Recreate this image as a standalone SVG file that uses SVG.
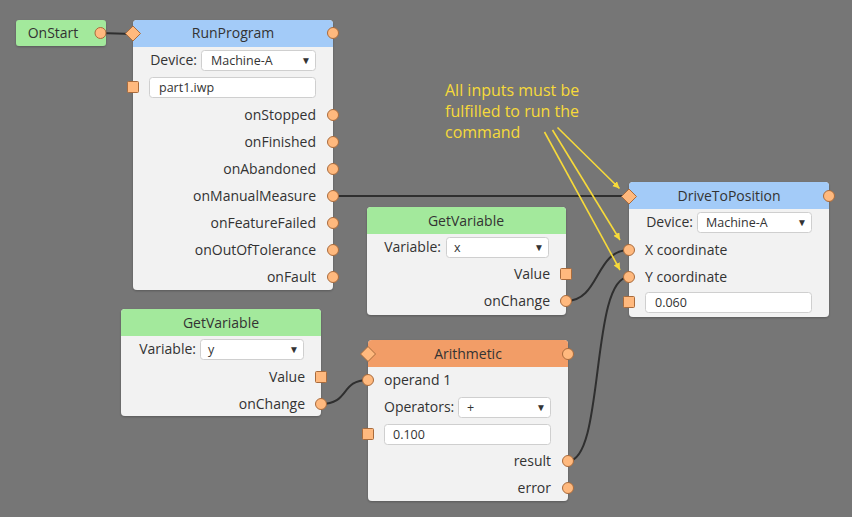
<svg xmlns="http://www.w3.org/2000/svg" width="852" height="517" viewBox="0 0 852 517">
  <defs>
    <style>
      text { font-family: "Open Sans", "Liberation Sans", sans-serif; fill: #333; }
      .lbl { font-size: 14px; dominant-baseline: central; }
      .r { text-anchor: end; }
      .title { font-size: 14px; text-anchor: middle; dominant-baseline: central; }
      .sel { font-size: 12.5px; dominant-baseline: central; }
      .body { fill: #f2f2f2; }
      .hdr-blue { fill: #a3cbf8; }
      .hdr-green { fill: #a3e99c; }
      .hdr-orange { fill: #f29d67; }
      .box { fill: #ffffff; stroke: #cfcfcf; stroke-width: 1; }
      .port { fill: #ffb97e; stroke: #a96b3c; stroke-width: 1; }
      .wire { fill: none; stroke: #2f2f2f; stroke-width: 2; }
      .note { font-size: 16px; fill: #f7da3a; }
      .pointer { stroke: #f7da3a; stroke-width: 1.6; fill: none; marker-end: url(#tip); }
      .arrow { font-size: 10px; text-anchor: middle; dominant-baseline: central; }
    </style>
    <marker id="tip" viewBox="0 0 10 10" refX="10" refY="5" markerWidth="7" markerHeight="7" markerUnits="userSpaceOnUse" orient="auto">
      <path d="M0,0 L10,5 L0,10 z" fill="#f7da3a"/>
    </marker>
    <filter id="shadow" x="-5%" y="-5%" width="110%" height="115%">
      <feDropShadow dx="0" dy="1" stdDeviation="1" flood-color="#000" flood-opacity="0.25"/>
    </filter>
  </defs>

  <rect x="0" y="0" width="852" height="517" fill="#767676"/>

  <!-- connectors -->
  <g id="connectors">
    <path class="wire" d="M100,33 L133,34"/>
    <path class="wire" d="M333,196 L629,196"/>
    <path class="wire" d="M566,301 C600,301 595,250 629,250"/>
    <path class="wire" d="M321,404 C350,404 340,380 368,380"/>
    <path class="wire" d="M568,461 C605,461 590,277 629,277"/>
  </g>

  <!-- OnStart -->
  <g id="onstart">
    <rect x="16" y="20" width="90" height="26" rx="3" class="hdr-green" filter="url(#shadow)"/>
    <text class="title" x="53" y="32.5">OnStart</text>
    <circle class="port" cx="100.5" cy="33" r="5.5"/>
  </g>

  <!-- RunProgram -->
  <g id="runprogram">
    <rect x="133" y="20" width="200" height="270" rx="4" class="body" filter="url(#shadow)"/>
    <path class="hdr-blue" d="M133,47 V24 a4,4 0 0 1 4,-4 H329 a4,4 0 0 1 4,4 V47 z"/>
    <text class="title" x="233" y="32.5">RunProgram</text>
    <path class="port" d="M133,26 L140.5,33.5 L133,41 L125.5,33.5 z"/>
    <circle class="port" cx="333" cy="33" r="5.5"/>
    <text class="lbl r" x="197" y="59.5">Device:</text>
    <rect class="box" x="201.5" y="50.5" width="114" height="20" rx="3"/>
    <text class="sel" x="211" y="60">Machine-A</text>
    <text class="arrow" x="306" y="60">▼</text>
    <rect class="box" x="149.5" y="77.5" width="166" height="20" rx="3"/>
    <text class="sel" x="159" y="87">part1.iwp</text>
    <rect class="port" x="127.5" y="81.5" width="11" height="11" rx="1"/>
    <text class="lbl r" x="316" y="114.5">onStopped</text>
    <circle class="port" cx="333" cy="115" r="5.5"/>
    <text class="lbl r" x="316" y="141.5">onFinished</text>
    <circle class="port" cx="333" cy="142" r="5.5"/>
    <text class="lbl r" x="316" y="168.5">onAbandoned</text>
    <circle class="port" cx="333" cy="169" r="5.5"/>
    <text class="lbl r" x="316" y="195.5">onManualMeasure</text>
    <circle class="port" cx="333" cy="196" r="5.5"/>
    <text class="lbl r" x="316" y="222.5">onFeatureFailed</text>
    <circle class="port" cx="333" cy="223" r="5.5"/>
    <text class="lbl r" x="316" y="249.5">onOutOfTolerance</text>
    <circle class="port" cx="333" cy="250" r="5.5"/>
    <text class="lbl r" x="316" y="276.5">onFault</text>
    <circle class="port" cx="333" cy="277" r="5.5"/>
  </g>

  <!-- GetVariable x -->
  <g id="getvariable-x">
    <rect x="367" y="207" width="199" height="108" rx="4" class="body" filter="url(#shadow)"/>
    <path class="hdr-green" d="M367,234 V211 a4,4 0 0 1 4,-4 H562 a4,4 0 0 1 4,4 V234 z"/>
    <text class="title" x="466" y="220.5">GetVariable</text>
    <text class="lbl r" x="441" y="246.5">Variable:</text>
    <rect class="box" x="446.5" y="237.5" width="102" height="20" rx="3"/>
    <text class="sel" x="454" y="247">x</text>
    <text class="arrow" x="539" y="247">▼</text>
    <text class="lbl r" x="550" y="273.5">Value</text>
    <rect class="port" x="560.5" y="268.5" width="11" height="11" rx="1"/>
    <text class="lbl r" x="550" y="300.5">onChange</text>
    <circle class="port" cx="566" cy="301" r="5.5"/>
  </g>

  <!-- DriveToPosition -->
  <g id="drivetoposition">
    <rect x="629" y="182" width="200" height="135" rx="4" class="body" filter="url(#shadow)"/>
    <path class="hdr-blue" d="M629,209 V186 a4,4 0 0 1 4,-4 H825 a4,4 0 0 1 4,4 V209 z"/>
    <text class="title" x="729" y="195.5">DriveToPosition</text>
    <path class="port" d="M629,189 L636.5,196.5 L629,204 L621.5,196.5 z"/>
    <circle class="port" cx="829" cy="196" r="5.5"/>
    <text class="lbl r" x="693" y="221.5">Device:</text>
    <rect class="box" x="697.5" y="212.5" width="114" height="20" rx="3"/>
    <text class="sel" x="706" y="222">Machine-A</text>
    <text class="arrow" x="802" y="222">▼</text>
    <text class="lbl" x="645" y="249.5">X coordinate</text>
    <circle class="port" cx="629" cy="250" r="5.5"/>
    <text class="lbl" x="645" y="276.5">Y coordinate</text>
    <circle class="port" cx="629" cy="277" r="5.5"/>
    <rect class="box" x="645.5" y="292.5" width="166" height="20" rx="3"/>
    <text class="sel" x="655" y="302">0.060</text>
    <rect class="port" x="623.5" y="296.5" width="11" height="11" rx="1"/>
  </g>

  <!-- GetVariable y -->
  <g id="getvariable-y">
    <rect x="121" y="309" width="200" height="107" rx="4" class="body" filter="url(#shadow)"/>
    <path class="hdr-green" d="M121,336 V313 a4,4 0 0 1 4,-4 H317 a4,4 0 0 1 4,4 V336 z"/>
    <text class="title" x="221" y="322.5">GetVariable</text>
    <text class="lbl r" x="196" y="348.5">Variable:</text>
    <rect class="box" x="200.5" y="339.5" width="103" height="20" rx="3"/>
    <text class="sel" x="208" y="349">y</text>
    <text class="arrow" x="294" y="349">▼</text>
    <text class="lbl r" x="305" y="376.5">Value</text>
    <rect class="port" x="315.5" y="371.5" width="11" height="11" rx="1"/>
    <text class="lbl r" x="305" y="403.5">onChange</text>
    <circle class="port" cx="321" cy="404" r="5.5"/>
  </g>

  <!-- Arithmetic -->
  <g id="arithmetic">
    <rect x="368" y="340" width="200" height="161" rx="4" class="body" filter="url(#shadow)"/>
    <path class="hdr-orange" d="M368,367 V344 a4,4 0 0 1 4,-4 H564 a4,4 0 0 1 4,4 V367 z"/>
    <text class="title" x="468" y="353.5">Arithmetic</text>
    <path class="port" d="M368,346.5 L375.5,354 L368,361.5 L360.5,354 z"/>
    <circle class="port" cx="568" cy="354" r="5.5"/>
    <text class="lbl" x="384" y="379.5">operand 1</text>
    <circle class="port" cx="368" cy="380" r="5.5"/>
    <text class="lbl" x="384" y="406.5">Operators:</text>
    <rect class="box" x="458.5" y="397.5" width="92" height="20" rx="3"/>
    <text class="sel" x="467" y="407">+</text>
    <text class="arrow" x="541" y="407">▼</text>
    <rect class="box" x="384.5" y="424.5" width="166" height="20" rx="3"/>
    <text class="sel" x="393" y="434">0.100</text>
    <rect class="port" x="362.5" y="428.5" width="11" height="11" rx="1"/>
    <text class="lbl r" x="551" y="460.5">result</text>
    <circle class="port" cx="568" cy="461" r="5.5"/>
    <text class="lbl r" x="551" y="487.5">error</text>
    <circle class="port" cx="568" cy="488" r="5.5"/>
  </g>

  <!-- annotation -->
  <g id="note">
    <text class="note" x="445" y="96">All inputs must be</text>
    <text class="note" x="445" y="117">fulfilled to run the</text>
    <text class="note" x="445" y="138">command</text>
    <line class="pointer" x1="557.5" y1="127.5" x2="619.5" y2="188.5"/>
    <line class="pointer" x1="552.5" y1="130" x2="620" y2="240"/>
    <line class="pointer" x1="544.5" y1="132" x2="620" y2="270"/>
  </g>
</svg>
